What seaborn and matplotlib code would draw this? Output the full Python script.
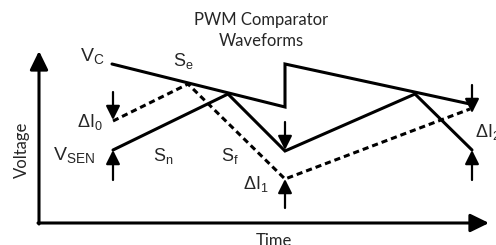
import matplotlib
matplotlib.use("Agg")
import matplotlib.pyplot as plt
import seaborn as sns
import pandas as pd

# waveform corner points (time, voltage), arbitrary units, origin at axes corner
vc_t = [73, 246, 246, 431]
vc_v = [159, 116, 159, 119]
sen_t = [74, 189, 246, 376, 433]
sen_v = [73, 129, 72, 129, 73]
dash_t = [74, 149, 246, 431]
dash_v = [102, 139, 44, 114]

# delta arrows: (t, v_from, v_to)
arrows = [(74, 131, 103), (74, 43, 73),
          (246, 101, 73), (246, 15, 44),
          (433, 138, 110), (433, 43, 73)]

labels = [(r'$\mathrm{V_C}$', 41, 162, 14),
          (r'$\mathrm{S_e}$', 134, 157, 13),
          (r'$\mathrm{\Delta I_0}$', 38, 96, 13),
          (r'$\mathrm{V_{SEN}}$', 14, 63, 14),
          (r'$\mathrm{S_n}$', 114, 62, 13),
          (r'$\mathrm{S_f}$', 182, 62, 13),
          (r'$\mathrm{\Delta I_1}$', 204, 34, 13),
          (r'$\mathrm{\Delta I_2}$', 436, 86, 13)]

sns.set_style('white')
plt.rcParams['mathtext.fontset'] = 'custom'
plt.rcParams['mathtext.rm'] = 'Liberation Sans'
plt.rcParams['mathtext.it'] = 'Liberation Sans'
plt.rcParams['font.family'] = ['Lato', 'DejaVu Sans']

fig = plt.figure(figsize=(4.96, 2.45), dpi=100)
ax = fig.add_axes([0, 0, 1, 1])
ax.set_xlim(-39, 457)
ax.set_ylim(-22, 223)
ax.axis('off')

df_vc = pd.DataFrame({'t': vc_t, 'v': vc_v})
df_sen = pd.DataFrame({'t': sen_t, 'v': sen_v})
df_dash = pd.DataFrame({'t': dash_t, 'v': dash_v})

sns.lineplot(data=df_vc, x='t', y='v', sort=False, estimator=None, color='black',
             lw=2.2, solid_joinstyle='miter', ax=ax)
sns.lineplot(data=df_sen, x='t', y='v', sort=False, estimator=None, color='black',
             lw=2.2, solid_joinstyle='miter', ax=ax)
sns.lineplot(data=df_dash, x='t', y='v', sort=False, estimator=None, color='black',
             lw=2.2, linestyle=(0, (2.0, 1.3)), ax=ax)

# axes with arrow heads
big = dict(arrowstyle='-|>,head_length=0.45,head_width=0.22', mutation_scale=25,
           lw=2.2, color='black', shrinkA=0, shrinkB=0)
ax.annotate('', xy=(0, 172), xytext=(0, -1), arrowprops=big)
ax.annotate('', xy=(450, 0), xytext=(-1, 0), arrowprops=big)

small = dict(arrowstyle='-|>,head_length=0.4,head_width=0.2', mutation_scale=21,
             lw=1.6, color='black', shrinkA=0, shrinkB=0)
for t, v0, v1 in arrows:
    ax.annotate('', xy=(t, v1), xytext=(t, v0), arrowprops=small)

for txt, t, v, fs in labels:
    ax.text(t, v, txt, fontsize=fs, ha='left', va='baseline')

ax.text(222, 198, 'PWM Comparator', fontsize=12, ha='center', va='baseline')
ax.text(222, 177, 'Waveforms', fontsize=12, ha='center', va='baseline')
ax.text(-17, 73, 'Voltage', fontsize=12, rotation=90, ha='center', va='center')
ax.text(235, -10, 'Time', fontsize=12, ha='center', va='top')

fig.savefig('out.png', dpi=100)
